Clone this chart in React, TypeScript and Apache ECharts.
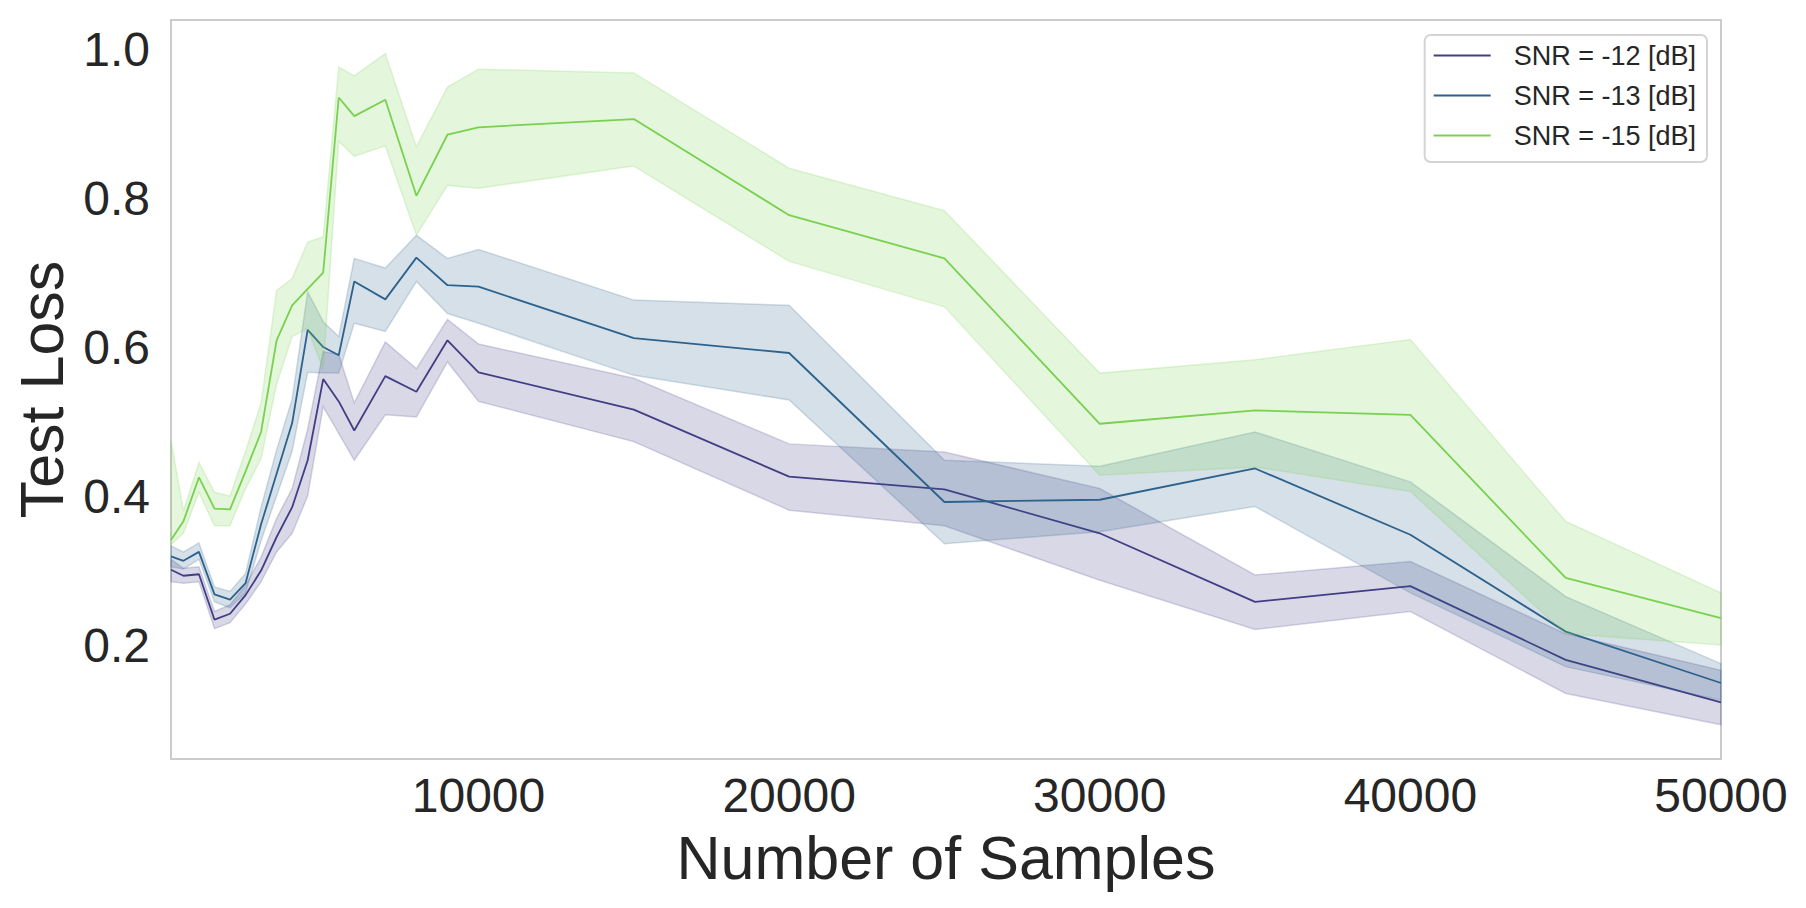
import React, { useEffect, useRef } from "react";
import * as echarts from "echarts";

const samples = [100, 500, 1000, 1500, 2000, 2500, 3000, 3500, 4000, 4500, 5000, 5500, 6000, 7000, 8000, 9000, 10000, 15000, 20000, 25000, 30000, 35000, 40000, 45000, 50000];

const snr12Mean = [0.301, 0.293, 0.295, 0.234, 0.242, 0.267, 0.300, 0.345, 0.385, 0.448, 0.557, 0.527, 0.488, 0.561, 0.540, 0.609, 0.566, 0.516, 0.426, 0.409, 0.350, 0.258, 0.279, 0.180, 0.123];
const snr12Low = [0.285, 0.283, 0.285, 0.222, 0.230, 0.255, 0.285, 0.325, 0.350, 0.400, 0.520, 0.484, 0.448, 0.509, 0.506, 0.580, 0.527, 0.473, 0.381, 0.360, 0.287, 0.221, 0.245, 0.135, 0.093];
const snr12High = [0.315, 0.303, 0.305, 0.245, 0.254, 0.280, 0.318, 0.370, 0.410, 0.490, 0.594, 0.590, 0.525, 0.607, 0.571, 0.637, 0.604, 0.558, 0.470, 0.459, 0.410, 0.294, 0.312, 0.215, 0.166];

const snr13Mean = [0.319, 0.313, 0.325, 0.268, 0.261, 0.283, 0.362, 0.430, 0.498, 0.623, 0.600, 0.589, 0.688, 0.664, 0.720, 0.683, 0.681, 0.612, 0.592, 0.392, 0.395, 0.437, 0.348, 0.218, 0.149];
const snr13Low = [0.305, 0.302, 0.315, 0.258, 0.250, 0.270, 0.340, 0.400, 0.460, 0.566, 0.565, 0.565, 0.632, 0.621, 0.688, 0.645, 0.632, 0.562, 0.529, 0.336, 0.352, 0.386, 0.270, 0.171, 0.126];
const snr13High = [0.333, 0.325, 0.337, 0.278, 0.272, 0.296, 0.385, 0.462, 0.530, 0.674, 0.634, 0.614, 0.719, 0.706, 0.750, 0.719, 0.731, 0.663, 0.656, 0.448, 0.440, 0.486, 0.419, 0.265, 0.175];

const snr15Mean = [0.341, 0.366, 0.425, 0.383, 0.382, 0.433, 0.486, 0.609, 0.656, 0.678, 0.700, 0.935, 0.910, 0.932, 0.803, 0.885, 0.895, 0.906, 0.777, 0.719, 0.497, 0.515, 0.509, 0.290, 0.236];
const snr15Low = [0.335, 0.350, 0.405, 0.360, 0.360, 0.410, 0.450, 0.550, 0.614, 0.625, 0.570, 0.876, 0.856, 0.870, 0.750, 0.817, 0.813, 0.843, 0.715, 0.654, 0.428, 0.439, 0.406, 0.215, 0.200];
const snr15High = [0.475, 0.380, 0.445, 0.405, 0.400, 0.460, 0.525, 0.676, 0.692, 0.741, 0.748, 0.976, 0.964, 0.994, 0.869, 0.949, 0.973, 0.968, 0.840, 0.783, 0.565, 0.583, 0.610, 0.366, 0.270];

const seriesNames = ["SNR = -12 [dB]", "SNR = -13 [dB]", "SNR = -15 [dB]"];
const seriesColors = [
  [67, 62, 133],
  [44, 98, 141],
  [122, 209, 81],
];
const xTicks = [10000, 20000, 30000, 40000, 50000];
const yTicks = [0.2, 0.4, 0.6, 0.8, 1.0];

const FONT = "'Liberation Sans', Arial, Helvetica, sans-serif";
const TEXT = "#262626";

function rgba(c: number[], a: number) {
  return `rgba(${c[0]},${c[1]},${c[2]},${a})`;
}

function buildSeries() {
  const groups = [
    { mean: snr12Mean, low: snr12Low, high: snr12High },
    { mean: snr13Mean, low: snr13Low, high: snr13High },
    { mean: snr15Mean, low: snr15Low, high: snr15High },
  ];
  const out: any[] = [];
  groups.forEach((g, i) => {
    const c = seriesColors[i];
    out.push({
      name: seriesNames[i],
      type: "line",
      symbol: "none",
      showSymbol: false,
      z: 2 + i * 2,
      color: rgba(c, 1),
      lineStyle: { color: rgba(c, 1), width: 1.8 },
      itemStyle: { color: rgba(c, 1) },
      data: samples.map((x, k) => [x, g.mean[k]]),
    });
    out.push({
      name: "band-" + i,
      type: "custom",
      silent: true,
      z: 3 + i * 2,
      data: [[samples[0], g.low[0]]],
      renderItem: (params: any, api: any) => {
        const upper = samples.map((x, k) => api.coord([x, g.high[k]]));
        const lower = samples.map((x, k) => api.coord([x, g.low[k]])).reverse();
        return {
          type: "polygon",
          shape: { points: upper.concat(lower) },
          style: {
            fill: rgba(c, 0.2),
            stroke: rgba(c, 0.2),
            lineWidth: 1.5,
          },
        };
      },
    });
  });
  return out;
}

export default function App() {
  const ref = useRef<HTMLDivElement>(null);
  useEffect(() => {
    if (!ref.current) return;
    const chart = echarts.init(ref.current, undefined, { renderer: "svg" });
    chart.setOption({
      animation: false,
      backgroundColor: "#ffffff",
      grid: {
        left: 171,
        right: 85,
        top: 20,
        bottom: 149,
        show: true,
        borderColor: "#cccccc",
        borderWidth: 2,
        backgroundColor: "#ffffff",
      },
      legend: {
        data: seriesNames,
        orient: "vertical",
        right: 99,
        top: 35,
        icon: "rect",
        itemWidth: 57,
        itemHeight: 2,
        itemGap: 13,
        padding: [7, 11, 13, 9],
        borderColor: "#d4d4d4",
        borderWidth: 2,
        borderRadius: 6,
        backgroundColor: "rgba(255,255,255,0.8)",
        textStyle: { fontSize: 27, lineHeight: 27, color: TEXT, fontFamily: FONT, padding: [0, 0, 0, 18] },
      },
      xAxis: {
        type: "value",
        min: 100,
        max: 50000,
        name: "Number of Samples",
        nameLocation: "middle",
        nameGap: 68,
        nameTextStyle: { fontSize: 61, color: TEXT, fontFamily: FONT },
        axisLine: { show: false },
        axisTick: { show: false },
        splitLine: { show: false },
        axisLabel: {
          customValues: xTicks,
          fontSize: 48,
          color: TEXT,
          fontFamily: FONT,
          margin: 12,
          formatter: (v: number) => String(v),
        },
      },
      yAxis: {
        type: "value",
        min: 0.047,
        max: 1.039,
        name: "Test Loss",
        nameLocation: "middle",
        nameGap: 97,
        nameTextStyle: { fontSize: 61, color: TEXT, fontFamily: FONT },
        axisLine: { show: false },
        axisTick: { show: false },
        splitLine: { show: false },
        axisLabel: {
          customValues: yTicks,
          fontSize: 48,
          color: TEXT,
          fontFamily: FONT,
          margin: 21,
          formatter: (v: number) => v.toFixed(1),
        },
      },
      series: buildSeries(),
    });
    return () => chart.dispose();
  }, []);
  return (
    <div
      ref={ref}
      style={{ position: "fixed", left: 0, top: 0, width: 1806, height: 908, background: "#fff" }}
    />
  );
}
